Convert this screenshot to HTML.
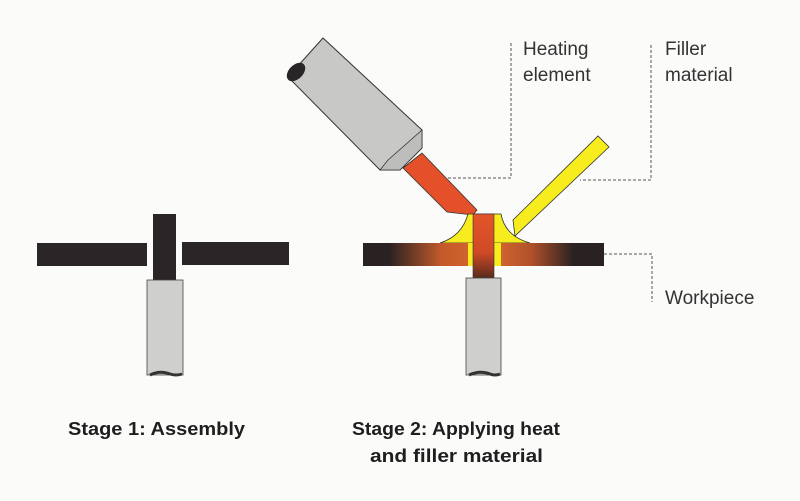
<!DOCTYPE html>
<html><head><meta charset="utf-8"><style>
html,body{margin:0;padding:0;background:#fbfbfa;}
svg{display:block}
</style></head><body>
<svg width="800" height="501" viewBox="0 0 800 501" xmlns="http://www.w3.org/2000/svg">
<defs>
<linearGradient id="hl" x1="0" x2="1">
<stop offset="0" stop-color="#2a2222"/><stop offset="0.25" stop-color="#2a2222"/><stop offset="0.75" stop-color="#c35a2a"/><stop offset="1" stop-color="#d0632e"/>
</linearGradient>
<linearGradient id="hr" x1="0" x2="1">
<stop offset="0" stop-color="#d0632e"/><stop offset="0.3" stop-color="#b0502a"/><stop offset="0.7" stop-color="#2a2222"/><stop offset="1" stop-color="#2a2222"/>
</linearGradient>
<linearGradient id="vr" x1="0" y1="0" x2="0" y2="1">
<stop offset="0" stop-color="#e3552a"/><stop offset="0.6" stop-color="#d04a26"/><stop offset="1" stop-color="#5a2a1e"/>
</linearGradient>
</defs>
<rect width="800" height="501" fill="#fbfbfa"/>
<!-- Stage 1 -->
<rect x="37" y="243" width="110" height="23" fill="#2a2526"/>
<rect x="182" y="242" width="107" height="23" fill="#2a2526"/>
<rect x="153" y="214" width="23" height="67" fill="#2a2526"/>
<rect x="147" y="280" width="36" height="95" fill="#cfcfcd" stroke="#444" stroke-width="0.8"/>
<path d="M150 375 Q160 370 170 374 Q176 376 182 374" stroke="#333" stroke-width="3" fill="none"/>
<!-- Stage 2 leaders -->
<g stroke="#555" stroke-width="1" stroke-dasharray="3,2" fill="none">
<polyline points="511,43 511,178 446,178"/>
<polyline points="651,45 651,180 580,180"/>
<polyline points="604,254 652,254 652,302"/>
</g>
<!-- heater cylinder -->
<polygon points="288,77 323,38 422,130 422,148 400,170 380,170" fill="#c8c8c6" stroke="#333" stroke-width="1"/>
<polygon points="388,160 422,130 422,148 400,170 380,170" fill="#bdbdbb" stroke="#333" stroke-width="0.8"/>
<ellipse cx="296" cy="72" rx="7" ry="11" transform="rotate(45 296 72)" fill="#2a2526"/>
<!-- red tip -->
<polygon points="403,168 422,153 477,210 473,215 447,212" fill="#e4502a" stroke="#333" stroke-width="0.8"/>
<!-- yellow fillets -->
<path d="M440 243 Q462 236 468 214 L501 214 Q505 236 530 243 Z" fill="#f6ec1e" stroke="#333" stroke-width="0.8"/>
<!-- bars -->
<rect x="363" y="243" width="105" height="23" fill="url(#hl)"/>
<rect x="501" y="243" width="103" height="23" fill="url(#hr)"/>
<rect x="468" y="243" width="33" height="23" fill="#f6ec1e"/>
<rect x="473" y="214" width="21" height="64" fill="url(#vr)" stroke="#333" stroke-width="0.6"/>
<!-- yellow rod -->
<polygon points="513,220 598,136 609,147 515,236" fill="#f6ec1e" stroke="#333" stroke-width="0.8"/>
<!-- pipe -->
<rect x="466" y="278" width="35" height="97" fill="#cfcfcd" stroke="#444" stroke-width="0.8"/>
<path d="M469 375 Q480 370 490 374 Q495 376 500 374" stroke="#333" stroke-width="3" fill="none"/>
<!-- labels -->
<g font-family="Liberation Sans, sans-serif" font-size="19" fill="#333">
<text x="523" y="55">Heating</text>
<text x="523" y="81">element</text>
<text x="665" y="55">Filler</text>
<text x="665" y="81">material</text>
<text x="665" y="304">Workpiece</text>
</g>
<g font-family="Liberation Sans, sans-serif" font-size="18" font-weight="bold" fill="#1e1e1e">
<text x="68" y="435" textLength="177" lengthAdjust="spacingAndGlyphs">Stage 1: Assembly</text>
<text x="352" y="435" textLength="208" lengthAdjust="spacingAndGlyphs">Stage 2: Applying heat</text>
<text x="370" y="462" textLength="173" lengthAdjust="spacingAndGlyphs">and filler material</text>
</g>
</svg>
</body></html>
